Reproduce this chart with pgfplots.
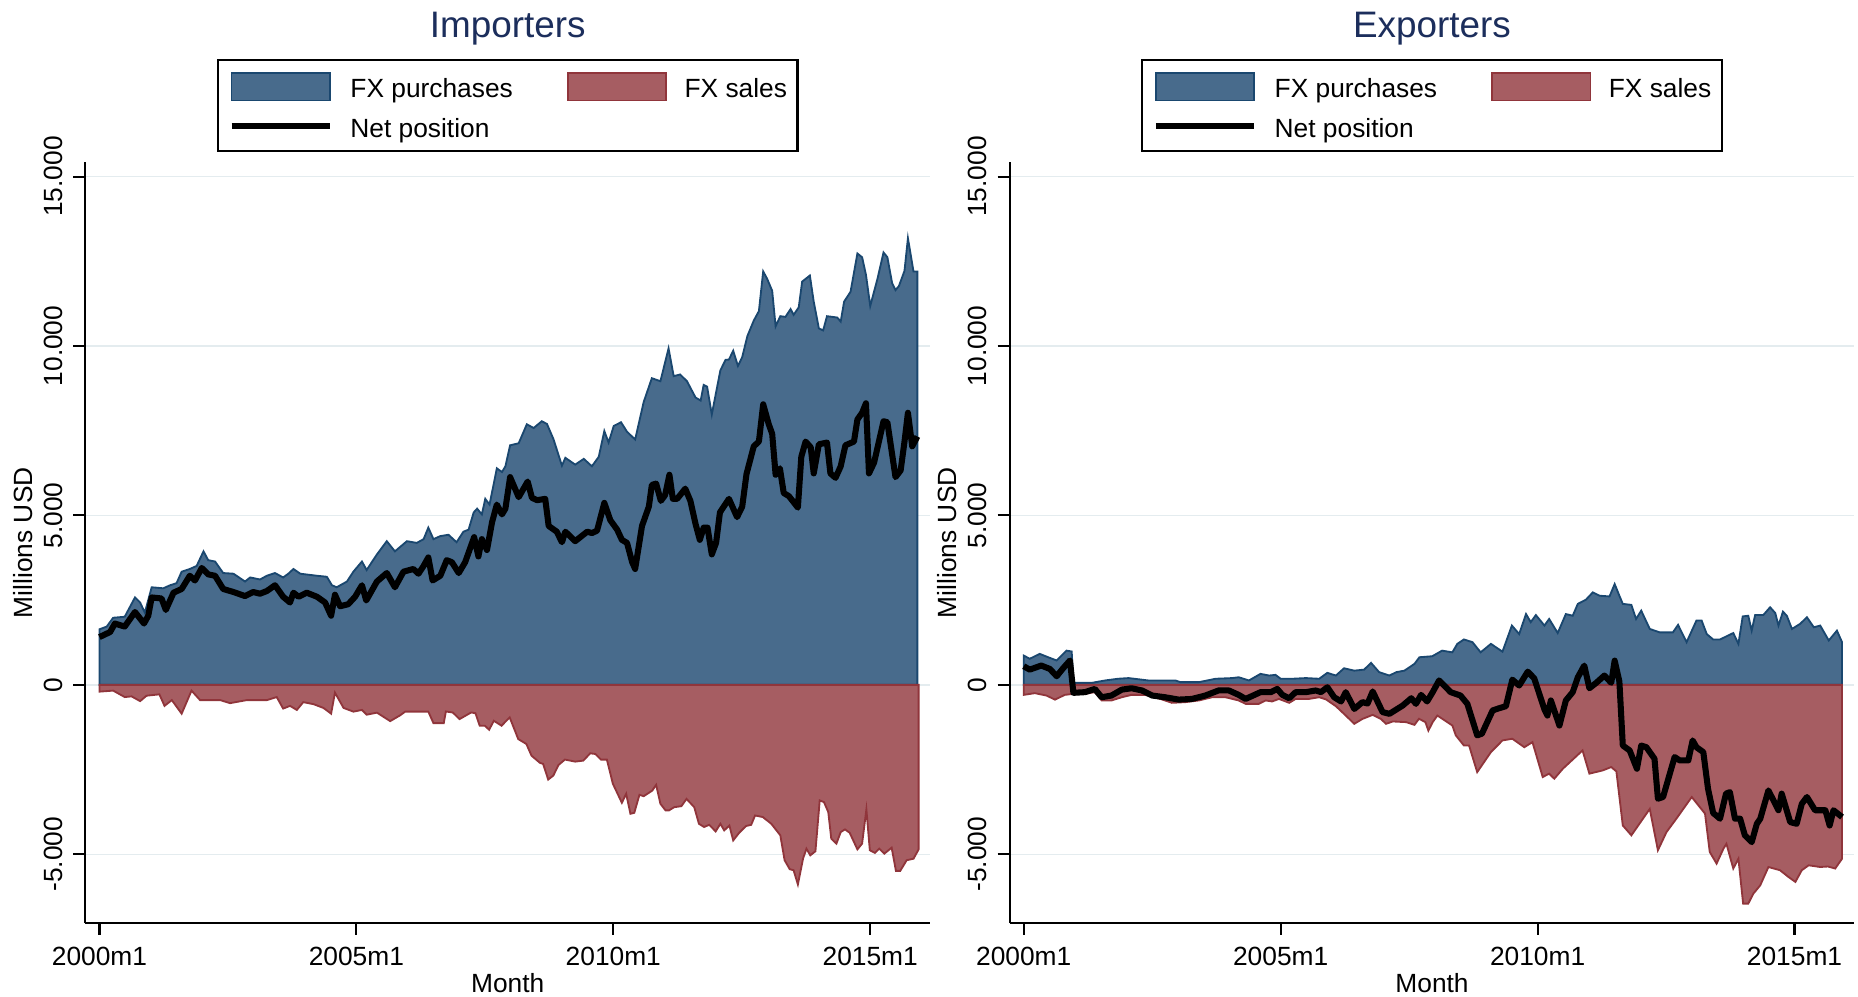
\documentclass[border=0pt]{standalone}
\usepackage{fontspec}
\setmainfont{Liberation Sans}
\usepackage{pgfplots}
\pgfplotsset{compat=1.18}

\definecolor{fxblue}{RGB}{72,107,140}
\definecolor{fxblueline}{RGB}{26,71,111}
\definecolor{fxred}{RGB}{166,93,98}
\definecolor{fxredline}{RGB}{144,53,59}
\definecolor{gridc}{RGB}{228,236,239}
\definecolor{titlec}{RGB}{28,46,92}

% x = months since 2000m1
\pgfplotsset{
  fxpanel/.style={
    scale only axis, width=320.85pt, height=288.9pt,
    xmin=-3.3, xmax=194, ymin=-7030, ymax=15420,
    axis x line*=bottom, axis y line*=left,
    axis line style={line width=0.8pt},
    tick align=outside, major tick length=4.5pt,
    tick style={line width=0.8pt, black},
    xtick={0,60,120,180}, xticklabels={2000m1,2005m1,2010m1,2015m1},
    ytick={-5000,0,5000,10000,15000}, yticklabels={-5.000,0,5.000,10.000,15.000},
    scaled y ticks=false, scaled x ticks=false,
    ymajorgrids, major grid style={gridc, line width=0.6pt},
    yticklabel style={rotate=90, anchor=south, inner sep=0pt},
    yticklabel shift=4pt,
    xticklabel style={anchor=north, inner sep=0pt},
    xticklabel shift=4.5pt,
    xlabel={Month}, ylabel={Millions USD},
    xlabel style={at={(axis description cs:0.5,0)}, anchor=north, inner sep=0pt, yshift=-18.9pt},
    ylabel style={at={(axis description cs:-0.0617,0.5)}, anchor=south, inner sep=0pt},
    title style={at={(axis description cs:0.5,1)}, anchor=base, yshift=41.5pt,
      font=\fontsize{14}{17}\selectfont, text=titlec},
    legend style={at={(axis description cs:0.5,1)}, anchor=south, yshift=4pt,
      draw=black, line width=0.8pt, inner xsep=4pt, inner ysep=4.6pt,
      legend columns=2, row sep=6.4pt,
      /tikz/every odd column/.append style={column sep=6.6pt},
      /tikz/every even column/.append style={column sep=20.5pt},
      nodes={inner sep=0pt, text depth=0.5pt}},
    legend cell align=left,
  },
  buy/.style={fill=fxblue, draw=fxblueline, line width=0.7pt,
    legend image code/.code={\draw[##1] (0pt,-4.5pt) rectangle (37.4pt,6pt);}},
  sell/.style={fill=fxred, draw=fxredline, line width=0.7pt,
    legend image code/.code={\draw[##1] (0pt,-4.5pt) rectangle (37.4pt,6pt);}},
  net/.style={black, line width=2.3pt, line join=round,
    legend image code/.code={\draw[##1] (0pt,0.75pt) -- (37.4pt,0.75pt);}},
}

\begin{document}
\begin{tikzpicture}
\path[use as bounding box] (-32.4pt,-27.9pt) rectangle (673.2pt,350.55pt);

\begin{axis}[fxpanel, title={Importers}]
\addplot[buy] coordinates {(0,1640) (1.7,1720) (3.2,1980) (5.9,2010) (8.3,2580) (9.5,2430) (10.6,2130) (12.2,2880) (14.9,2850) (16.5,2940) (18,3000) (19.2,3340) (21.1,3420) (22.7,3510) (24.3,3940) (25.4,3680) (27,3640) (28.9,3300) (31.3,3280) (34,3050) (35.2,3170) (37.5,3110) (39.1,3220) (41,3300) (42.9,3170) (44.1,3280) (45.3,3420) (46.9,3280) (50.8,3220) (53.1,3190) (54.3,2940) (55.4,2880) (57.8,3050) (59.3,3340) (61.3,3640) (62.4,3390) (64.8,3850) (67.1,4240) (69,3940) (71.8,4240) (74.1,4190) (75.7,4300) (76.8,4640) (78,4300) (79.6,4390) (81.5,4430) (83.4,4210) (85,4520) (86.2,4580) (87.4,5090) (88.2,5200) (89.3,5030) (90.1,5490) (91.1,5320) (92.8,6390) (94,6280) (94.8,6450) (95.9,7070) (97.9,7130) (99.8,7690) (101.4,7580) (103.3,7780) (104.5,7700) (106,7260) (108,6470) (108.8,6700) (111.1,6500) (113.1,6670) (115,6450) (116.6,6730) (117.9,7490) (118.9,7150) (120.1,7640) (121.8,7750) (123.2,7470) (125.1,7240) (127.1,8350) (129,9050) (131,8960) (132.9,9930) (134.1,9110) (135.6,9160) (137.2,8960) (139.2,8480) (140.4,8390) (141.1,8850) (141.9,8800) (143,7980) (145,9280) (146.2,9590) (147,9600) (148,9860) (149.1,9410) (150.1,9670) (151.3,10290) (152.8,10750) (154,11030) (155,12200) (155.9,11990) (157.1,11630) (157.9,10580) (159,10880) (160.2,10860) (161.4,11090) (162.1,10920) (163.3,11140) (164.1,11900) (165.9,12080) (166.8,11310) (168,10520) (169,10460) (169.9,10880) (172.3,10840) (173.1,10720) (173.9,11310) (175.4,11600) (177,12730) (178.1,12620) (179,12100) (180,11180) (181.7,11990) (183.1,12760) (184,12620) (185.1,11860) (185.9,11650) (186.7,11770) (188,12220) (188.8,13180) (190.1,12200) (191,12200)} \closedcycle;
\addlegendentry{FX purchases}
\addplot[sell] coordinates {(0,-200) (3.2,-170) (5.9,-360) (7.5,-340) (9.5,-480) (11,-320) (14,-280) (15.2,-620) (16.9,-450) (19.2,-850) (21.5,-170) (23.5,-450) (28.2,-450) (30.5,-540) (34.4,-450) (39.1,-450) (41.4,-360) (42.9,-700) (44.5,-620) (46.1,-740) (47.6,-510) (50,-570) (52.3,-680) (54.1,-850) (55,-230) (57,-680) (59.3,-790) (61.3,-740) (62.4,-880) (64.8,-820) (67.9,-1070) (70.2,-900) (71.4,-790) (73.3,-790) (76.8,-790) (78,-1130) (80.4,-1130) (80.9,-785) (82.5,-815) (84.1,-1010) (86.8,-815) (87.8,-835) (88.8,-1205) (90,-1205) (91,-1325) (92.1,-1060) (93.9,-1205) (95.8,-960) (97.8,-1600) (99.7,-1745) (100.9,-2090) (102.9,-2305) (103.6,-2330) (104.8,-2795) (106,-2675) (107.2,-2365) (108.7,-2205) (111.1,-2265) (113,-2235) (114.6,-2020) (115.8,-2040) (117.1,-2205) (118.5,-2205) (119.9,-2920) (122,-3480) (123,-3215) (124,-3805) (124.9,-3775) (126.1,-3245) (127.1,-3285) (129.1,-3120) (130,-2950) (131,-3510) (132.2,-3705) (133,-3705) (134.2,-3610) (135.9,-3580) (137.1,-3365) (138.9,-3610) (140,-4100) (141.2,-4195) (142.4,-4130) (143.9,-4325) (145,-4100) (145.9,-4295) (147.1,-4150) (148,-4590) (149.4,-4365) (151,-4165) (152.2,-4130) (153.1,-3855) (154.9,-3900) (156.9,-4100) (159,-4440) (160,-5175) (161.2,-5440) (162.1,-5470) (163.1,-5890) (164.3,-5130) (165.1,-4835) (166,-5030) (167.2,-4910) (168.2,-3410) (169.2,-3460) (170.2,-3755) (170.9,-4540) (172.1,-4685) (173.1,-4345) (174.1,-4265) (175.2,-4365) (177,-4855) (178.1,-4685) (179.1,-3675) (179.9,-4880) (181.1,-4960) (182.1,-4835) (183.3,-4980) (185,-4805) (186,-5490) (187,-5490) (188.5,-5175) (190.1,-5130) (191.3,-4855)} \closedcycle;
\addlegendentry{FX sales}
\addplot[net] coordinates {(0,1410) (2.5,1560) (3.6,1810) (5.9,1720) (8.3,2150) (10.4,1810) (11.4,2040) (12.2,2580) (14.5,2550) (15.5,2210) (17.3,2720) (19.2,2830) (21.1,3220) (22.3,3080) (23.9,3450) (25.4,3260) (27,3220) (28.9,2830) (31.3,2740) (34,2620) (35.9,2740) (37.5,2690) (39.1,2770) (41,2940) (42.9,2600) (44.5,2430) (45.3,2720) (46.5,2600) (48.4,2720) (50.8,2600) (52.7,2430) (54.1,2040) (55,2660) (56.2,2320) (58.1,2380) (59.7,2600) (61.3,2940) (62.3,2490) (64.8,3050) (67.1,3300) (69,2880) (71,3340) (73.3,3420) (74.5,3280) (75.7,3510) (76.8,3760) (77.8,3080) (79.6,3220) (81.1,3680) (82.3,3620) (83.9,3300) (85.4,3620) (87.5,4360) (88.5,3790) (89.3,4300) (90.5,3980) (91.7,4810) (92.8,5320) (94,5030) (94.8,5200) (95.9,6130) (97.9,5540) (100,6000) (101,5520) (102.2,5450) (104.1,5490) (104.9,4690) (106.8,4520) (108,4210) (108.8,4520) (111.1,4240) (113.9,4520) (115,4480) (116.2,4550) (117.9,5370) (119.3,4860) (120.9,4580) (122,4280) (123.2,4190) (124.4,3620) (125.1,3420) (126.7,4690) (128.3,5260) (129,5900) (130,5940) (131.1,5430) (132.1,5600) (133.1,6200) (133.9,5490) (134.9,5490) (136.8,5790) (138,5430) (139.2,4750) (140.2,4280) (141.1,4640) (142,4640) (143,3850) (144,4190) (144.9,5090) (147,5490) (148.9,4950) (150.1,5260) (151.1,6220) (152.8,7040) (154,7180) (155,8280) (156.3,7690) (157.1,7410) (157.9,6200) (158.9,6390) (159.8,5660) (161,5570) (163.1,5230) (163.9,6730) (164.9,7180) (166.1,7010) (166.8,6240) (168,7100) (169.9,7150) (170.7,6240) (171.9,6110) (173.1,6450) (174.2,7070) (176.2,7180) (177,7830) (178.1,8030) (179,8310) (179.7,6240) (180.9,6560) (183.1,7780) (184,7750) (185.9,6130) (187.1,6330) (188,7180) (188.8,8030) (189.8,7040) (191,7330)};
\addlegendentry{Net position}
\end{axis}

\begin{axis}[fxpanel, at={(351pt,0pt)}, title={Exporters}]
\addplot[buy] coordinates {(0,865) (1.4,770) (3.75,915) (5.7,815) (7.7,720) (10,1010) (11.2,985) (11.6,60) (15.9,60) (19,130) (22,180) (24.5,200) (29.1,130) (35.4,130) (36.6,80) (40.9,80) (44.8,180) (48.7,200) (50.2,225) (52.6,130) (55.3,325) (57.3,275) (58.8,295) (60,180) (62.7,180) (65.9,200) (69,180) (70.9,355) (72.9,275) (74.8,490) (77.2,420) (79.5,450) (81.1,650) (83,375) (85.4,275) (87,375) (88.9,420) (91.25,620) (92.4,815) (95.4,845) (97.7,1010) (100.1,960) (101.25,1210) (102.8,1340) (104.8,1260) (106.7,960) (109.1,1210) (111.8,980) (114,1750) (115.7,1500) (117.3,2090) (118.4,1850) (119.6,2060) (121.6,1750) (122.7,1945) (124.7,1530) (126.6,2090) (128.2,2040) (129.4,2390) (131.3,2515) (132.9,2730) (134.5,2630) (136.8,2610) (138,2975) (139.1,2630) (139.9,2390) (141.9,2360) (143,1945) (144.2,2190) (146.2,1650) (148.5,1550) (151.6,1550) (152.8,1770) (154.8,1260) (157.1,1900) (158.3,1900) (159.5,1500) (161,1340) (162.6,1340) (165.7,1530) (166.9,1210) (167.9,2020) (169.2,2040) (170,1600) (170.8,2060) (172.7,2060) (174.3,2290) (175.5,2120) (176.25,1750) (177.3,2160) (178.2,2040) (179.4,1650) (181.3,1800) (182.9,1995) (184.5,1700) (186,1750) (188,1310) (189.9,1600) (191.1,1260)} \closedcycle;
\addlegendentry{FX purchases}
\addplot[sell] coordinates {(0,-295) (2.6,-245) (5.3,-315) (7.3,-435) (9.6,-295) (11.6,-265) (14.3,-265) (16.6,-215) (18.2,-460) (20.5,-460) (22.9,-365) (25.2,-295) (28.3,-295) (30.6,-365) (33,-460) (34.6,-530) (37.7,-510) (40.9,-460) (44,-365) (47.1,-365) (50.2,-460) (51.8,-560) (54.9,-560) (56.5,-460) (58,-490) (59.6,-415) (62,-530) (63.5,-415) (66.6,-415) (69,-365) (70.6,-430) (72.9,-630) (75.2,-905) (77.2,-1150) (79.1,-1005) (81.5,-885) (83.4,-1005) (84.6,-1150) (86.2,-1080) (89.3,-1100) (91.25,-1180) (92.3,-1000) (93.8,-1100) (94.5,-1350) (95.5,-1100) (96.6,-905) (100.1,-1200) (100.9,-1490) (102.8,-1790) (104,-1790) (105.9,-2575) (109.1,-1985) (111.8,-1640) (114.1,-1590) (116.9,-1840) (118.8,-1690) (121.2,-2720) (122.7,-2620) (123.9,-2770) (125.9,-2475) (130.5,-1935) (132.1,-2620) (135.2,-2525) (137.2,-2425) (138.4,-2555) (139.9,-4150) (141.9,-4440) (146.2,-3660) (148.1,-4880) (150.1,-4345) (152.4,-3950) (156,-3310) (159.1,-3800) (160.2,-4930) (161.8,-5275) (163.4,-4835) (164.1,-4690) (165.7,-5420) (166.9,-5130) (168,-6455) (169.2,-6455) (170.4,-6160) (172,-5915) (173.9,-5375) (176.6,-5470) (178.6,-5670) (180.2,-5815) (181.7,-5470) (183.3,-5325) (186,-5375) (187.8,-5360) (189.5,-5420) (191.1,-5130)} \closedcycle;
\addlegendentry{FX sales}
\addplot[net] coordinates {(0,550) (1.4,450) (4.1,570) (6.1,470) (7.7,255) (9.2,490) (10.8,720) (11.6,-235) (14.3,-215) (16.6,-120) (18.2,-365) (20.5,-315) (22.9,-140) (25.2,-100) (27.6,-165) (30,-315) (33,-365) (36.2,-435) (39.3,-415) (42.4,-315) (45.5,-165) (47.9,-165) (50.2,-295) (51.8,-415) (53.3,-330) (55.3,-215) (57.7,-215) (59.2,-120) (60.4,-295) (62,-395) (63.5,-215) (65.9,-215) (68.2,-165) (69.4,-215) (70.9,-70) (72.5,-365) (74.1,-490) (75.2,-215) (77.2,-710) (79.1,-510) (80.3,-550) (81.5,-195) (83.8,-805) (85.4,-855) (88.5,-610) (90.5,-395) (91.6,-560) (92.8,-295) (94.2,-490) (95.5,-215) (97,130) (99.7,-215) (102,-315) (103.6,-560) (105.9,-1490) (107,-1440) (109.5,-755) (111,-690) (112.6,-630) (114.1,155) (115.7,-20) (117.7,390) (119.2,195) (121.6,-725) (122.3,-905) (123.1,-460) (125.1,-1200) (126.6,-460) (128.2,-215) (129.4,225) (130.9,570) (132.1,-100) (133.7,60) (135.6,275) (137.2,60) (138,715) (139.1,100) (139.9,-1790) (141.5,-1935) (143.2,-2475) (144.2,-1790) (145.4,-1840) (147.3,-2180) (148.1,-3360) (149.3,-3310) (152,-2130) (153.2,-2230) (155.2,-2230) (156.2,-1640) (157.1,-1840) (158.7,-1985) (159.8,-3065) (161,-3780) (162.6,-3950) (164,-3210) (164.9,-3165) (166.1,-3950) (167.3,-3950) (168.4,-4440) (170,-4640) (171.2,-4100) (172,-3950) (173.9,-3115) (176.25,-3700) (177,-3210) (179,-4050) (180.5,-4100) (181.7,-3510) (182.9,-3310) (184.8,-3700) (187.2,-3700) (188.2,-4150) (189.1,-3700) (191.1,-3900)};
\addlegendentry{Net position}
\end{axis}
\end{tikzpicture}
\end{document}
